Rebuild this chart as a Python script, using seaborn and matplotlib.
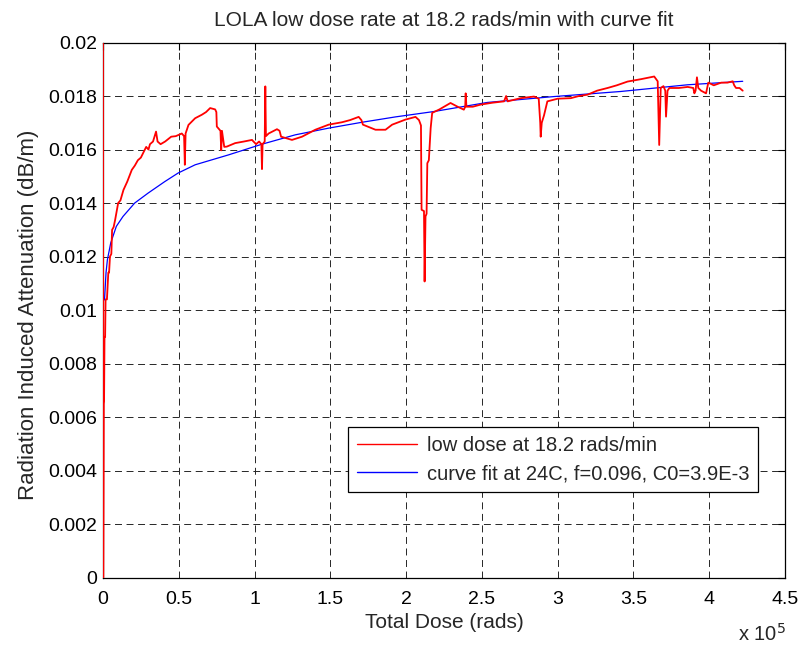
import matplotlib
matplotlib.use("Agg")
import matplotlib.pyplot as plt
import seaborn as sns
import pandas as pd

# ---- data ----
red_x = [0, 150, 500, 700, 1000, 1400, 1700, 2600, 3500, 4000, 4600, 5500, 6000, 7000, 8000,
         10000, 11500, 13500, 16000, 19000, 21000, 23000, 25000, 28500, 30000, 31000, 33000,
         35000, 36000, 38000, 41000, 45000, 48000, 52000, 53500, 54000, 54500, 56400, 60800,
         65200, 68000, 70700, 74000, 74800, 75100, 77500, 78000, 78500, 80000, 81700, 87200,
         93000, 98300, 101000, 103000, 104500, 104900, 105300, 106700, 107100, 107500, 109300,
         114800, 116500, 117500, 124700, 131300, 140100, 148900, 157700, 163000, 168700,
         170500, 171500, 179800, 186400, 190800, 199600, 206200, 208500, 209800, 210200,
         211800, 212200, 212800, 213500, 214000, 215000, 216200, 217200, 222000, 229300,
         234000, 238100, 239000, 239300, 239800, 244000, 249200, 257000, 264600, 266000,
         267000, 275600, 284400, 287500, 288500, 288800, 289500, 291000, 293200, 300000,
         308700, 314000, 319700, 326000, 332900, 339000, 346100, 355000, 363700, 366000,
         367000, 368000, 369800, 371000, 371500, 372500, 373700, 380000, 385800, 389500,
         390200, 391000, 391900, 392800, 394600, 397900, 399400, 403000, 407900, 412000,
         415500, 416500, 417700, 420000, 422100]
red_y = [0.0205, 0.0, 0.0065, 0.0066, 0.0090, 0.0090, 0.0104, 0.0104, 0.0114, 0.0114, 0.0120,
         0.0121, 0.0130, 0.0131, 0.01337, 0.0140, 0.0141, 0.01449, 0.0148, 0.01524, 0.0154,
         0.0156, 0.0157, 0.0161, 0.0160, 0.0162, 0.0163, 0.01667, 0.0163, 0.0162, 0.0163,
         0.01648, 0.0165, 0.0166, 0.0165, 0.01543, 0.0166, 0.01692, 0.01717, 0.01730, 0.0174,
         0.01755, 0.0175, 0.0174, 0.01686, 0.0167, 0.01597, 0.0167, 0.0161, 0.01611, 0.01624,
         0.0163, 0.01636, 0.0162, 0.0163, 0.0162, 0.01527, 0.0162, 0.0163, 0.01836, 0.0165,
         0.0166, 0.01676, 0.0167, 0.01648, 0.01636, 0.01648, 0.01674, 0.01693, 0.01702,
         0.0171, 0.01722, 0.0171, 0.01693, 0.01674, 0.01674, 0.01693, 0.01712, 0.01722,
         0.0171, 0.0169, 0.01375, 0.0137, 0.01107, 0.0135, 0.0136, 0.01549, 0.0156, 0.0168,
         0.01737, 0.0175, 0.01774, 0.0176, 0.01749, 0.0176, 0.0181, 0.0176, 0.0176, 0.01768,
         0.01775, 0.01780, 0.0180, 0.0178, 0.01792, 0.01798, 0.0179, 0.0170, 0.01648, 0.0170,
         0.01728, 0.01780, 0.0179, 0.01792, 0.0180, 0.01805, 0.0182, 0.01830, 0.0184, 0.01854,
         0.01863, 0.01873, 0.01855, 0.01617, 0.0183, 0.01837, 0.0182, 0.01723, 0.0182, 0.0183,
         0.0183, 0.01834, 0.0183, 0.0181, 0.0182, 0.0187, 0.0183, 0.0182, 0.0181, 0.0185,
         0.0184, 0.0185, 0.0185, 0.01855, 0.0184, 0.0183, 0.0183, 0.0182]

blue_x = [1000, 2000, 2900, 5100, 8800, 13200, 20900, 29700, 40700, 49500, 60800, 82800,
          104900, 126900, 148900, 171000, 193000, 218300, 253600, 297600, 341700, 385800, 422100]
blue_y = [0.01038, 0.01140, 0.01188, 0.01251, 0.01313, 0.0135, 0.0140, 0.01437, 0.0148,
          0.01512, 0.01543, 0.0158, 0.0162, 0.01655, 0.0168, 0.01702, 0.01722, 0.01742,
          0.01776, 0.01798, 0.01817, 0.01842, 0.01855]

x_ticks = [0, 50000, 100000, 150000, 200000, 250000, 300000, 350000, 400000, 450000]
x_tick_labels = ["0", "0.5", "1", "1.5", "2", "2.5", "3", "3.5", "4", "4.5"]
y_ticks = [0, 0.002, 0.004, 0.006, 0.008, 0.010, 0.012, 0.014, 0.016, 0.018, 0.020]
y_tick_labels = ["0", "0.002", "0.004", "0.006", "0.008", "0.01", "0.012", "0.014",
                 "0.016", "0.018", "0.02"]

red_label = "low dose at 18.2 rads/min"
blue_label = "curve fit at 24C, f=0.096, C0=3.9E-3"

# ---- plotting ----
sns.set_theme(style="white")
plt.rcParams["font.family"] = ["Liberation Sans", "DejaVu Sans"]
plt.rcParams["lines.scale_dashes"] = False

fig = plt.figure(figsize=(8.03, 6.49), dpi=100)
ax = fig.add_axes([103 / 803, (649 - 577.7) / 649, (785 - 103) / 803, (577.7 - 42.5) / 649])

df_red = pd.DataFrame({"x": red_x, "y": red_y})
df_blue = pd.DataFrame({"x": blue_x, "y": blue_y})

sns.lineplot(data=df_red, x="x", y="y", ax=ax, color="#ff0000", linewidth=1.3,
             sort=False, estimator=None, label=red_label, zorder=3)
sns.lineplot(data=df_blue, x="x", y="y", ax=ax, color="#0000ff", linewidth=0.9,
             sort=False, estimator=None, label=blue_label, zorder=2.8)

ax.set_xlim(0, 450000)
ax.set_ylim(0, 0.02)
ax.set_xticks(x_ticks)
ax.set_xticklabels(x_tick_labels)
ax.set_yticks(y_ticks)
ax.set_yticklabels(y_tick_labels)

ax.grid(True, color="0.15", linestyle=(0, (5, 3.3)), linewidth=0.7)
ax.tick_params(direction="in", top=True, right=True, length=5, width=0.8,
               labelsize=14, colors="black")
ax.tick_params(axis="x", pad=9.5)
ax.tick_params(axis="y", pad=4)
for s in ax.spines.values():
    s.set_color("black")
    s.set_linewidth(0.9)

ax.set_xlabel("Total Dose (rads)", fontsize=15, labelpad=4)
ax.set_ylabel("Radiation Induced Attenuation (dB/m)", fontsize=16, labelpad=7)
ax.yaxis.label.set_position((0, (577.7 - 315) / (577.7 - 42.5)))
ax.set_title("LOLA low dose rate at 18.2 rads/min with curve fit", fontsize=15, pad=12)

fig.text(738 / 803, 1 - 634 / 649, r"x 10$^{5}$", fontsize=14.5, va="center", ha="left")

leg = ax.legend(loc="upper left", bbox_to_anchor=(348 / 803, 1 - 427 / 649),
                bbox_transform=fig.transFigure, fontsize=14.5, frameon=True,
                fancybox=False, edgecolor="black", framealpha=1, borderpad=0.45,
                handlelength=3.0, handletextpad=0.45, labelspacing=0.45, borderaxespad=0)
leg.get_frame().set_linewidth(0.9)
for line in leg.get_lines():
    line.set_linewidth(1.0)

fig.savefig("out.png", dpi=100, facecolor="white")
